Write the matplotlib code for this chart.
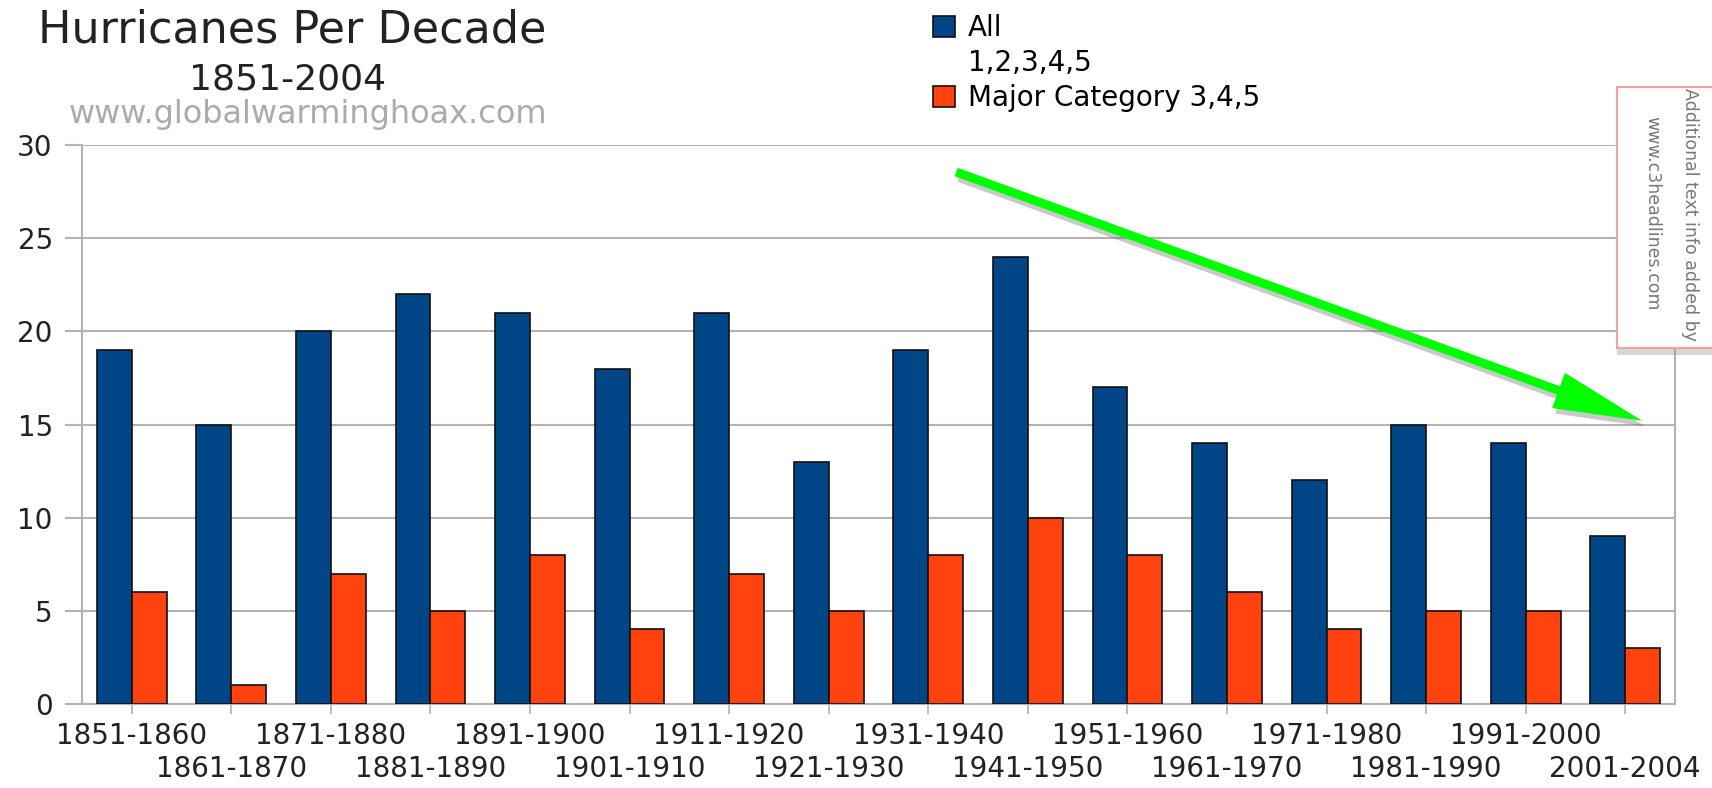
import matplotlib.pyplot as plt
from matplotlib.patches import Patch, Rectangle
import matplotlib.patheffects as pe
import numpy as np

plt.rcParams['font.family'] = 'DejaVu Sans'

decades = ['1851-1860', '1861-1870', '1871-1880', '1881-1890', '1891-1900',
           '1901-1910', '1911-1920', '1921-1930', '1931-1940', '1941-1950',
           '1951-1960', '1961-1970', '1971-1980', '1981-1990', '1991-2000',
           '2001-2004']
all_hurricanes = [19, 15, 20, 22, 21, 18, 21, 13, 19, 24, 17, 14, 12, 15, 14, 9]
major_hurricanes = [6, 1, 7, 5, 8, 4, 7, 5, 8, 10, 8, 6, 4, 5, 5, 3]

blue = '#004586'
red = '#ff420e'
grid_col = '#b3b3b3'

W, H = 1712, 788
fig = plt.figure(figsize=(W / 100, H / 100), dpi=100)
ax = fig.add_axes([82 / W, 1 - 704 / H, (1675 - 82) / W, (704 - 145) / H])

x = np.arange(len(decades))
bw = 0.35
ax.bar(x - bw / 2, all_hurricanes, bw, color=blue, edgecolor='#111111',
       linewidth=1.2, zorder=3)
ax.bar(x + bw / 2, major_hurricanes, bw, color=red, edgecolor='#111111',
       linewidth=1.2, zorder=3)

ax.set_xlim(-0.5, 15.5)
ax.set_ylim(0, 30)
ax.set_yticks(range(0, 31, 5))
ax.yaxis.grid(True, color=grid_col, linewidth=1.5, zorder=0)
ax.tick_params(axis='y', length=12, color=grid_col, width=1.5, pad=9,
               labelsize=20, labelcolor='#222222')

# staggered decade labels: even ones on the first row, odd ones below
ax.set_xticks(x[::2])
ax.set_xticklabels(decades[::2])
ax.set_xticks(x[1::2], minor=True)
ax.set_xticklabels(decades[1::2], minor=True)
ax.tick_params(axis='x', which='both', length=7, color=grid_col, width=1.2,
               labelsize=20, labelcolor='#222222')
ax.tick_params(axis='x', which='major', pad=6.3)
ax.tick_params(axis='x', which='minor', pad=30)

ax.spines['top'].set_visible(False)
for s in ['left', 'right', 'bottom']:
    ax.spines[s].set_color(grid_col)
    ax.spines[s].set_linewidth(1.5)

# titles
fig.text(38 / W, 1 - 30 / H, 'Hurricanes Per Decade', fontsize=32,
         color='#222222', ha='left', va='center')
fig.text(288 / W, 1 - 80 / H, '1851-2004', fontsize=26, color='#222222',
         ha='center', va='center')
fig.text(308 / W, 1 - 114 / H, 'www.globalwarminghoax.com', fontsize=23,
         color='#ababab', ha='center', va='center')

# legend
handles = [Patch(facecolor=blue, edgecolor='#111111', linewidth=1.2),
           Patch(facecolor='none', edgecolor='none'),
           Patch(facecolor=red, edgecolor='#111111', linewidth=1.2)]
fig.legend(handles, ['All', '1,2,3,4,5', 'Major Category 3,4,5'],
           loc='upper left', bbox_to_anchor=(933 / W, 1 - 14 / H),
           frameon=False, fontsize=20, handlelength=0.8, handleheight=0.8,
           handletextpad=0.45, labelspacing=0.25, borderpad=0,
           borderaxespad=0)

# green trend arrow
ax.annotate('', xy=(15.17, 15.2), xytext=(8.28, 28.55),
            arrowprops=dict(arrowstyle='simple,head_length=3.2,head_width=1.35,tail_width=0.32',
                            mutation_scale=20, fc='#00ff00', ec='none',
                            shrinkA=0, shrinkB=0,
                            path_effects=[pe.SimplePatchShadow(offset=(2, -4), shadow_rgbFace='#666666', alpha=0.35),
                                          pe.Normal()]),
            zorder=5, annotation_clip=False)

# side note box
box = Rectangle((1617 / W, 1 - 348 / H), (W - 1617 + 10) / W, (348 - 87) / H,
                transform=fig.transFigure, facecolor='white', edgecolor='#f2a0a0',
                linewidth=1.5, zorder=10,
                path_effects=[pe.SimplePatchShadow(offset=(0, -5), shadow_rgbFace='#999999', alpha=0.4),
                              pe.Normal()])
fig.add_artist(box)
fig.text(1690 / W, 1 - 215 / H, 'Additional text info added by', rotation=270,
         fontsize=12.5, color='#777777', ha='center', va='center', zorder=11)
fig.text(1652 / W, 1 - 213 / H, 'www.c3headlines.com', rotation=270,
         fontsize=12.5, color='#777777', ha='center', va='center', zorder=11)

fig.savefig('out.png', dpi=100)
